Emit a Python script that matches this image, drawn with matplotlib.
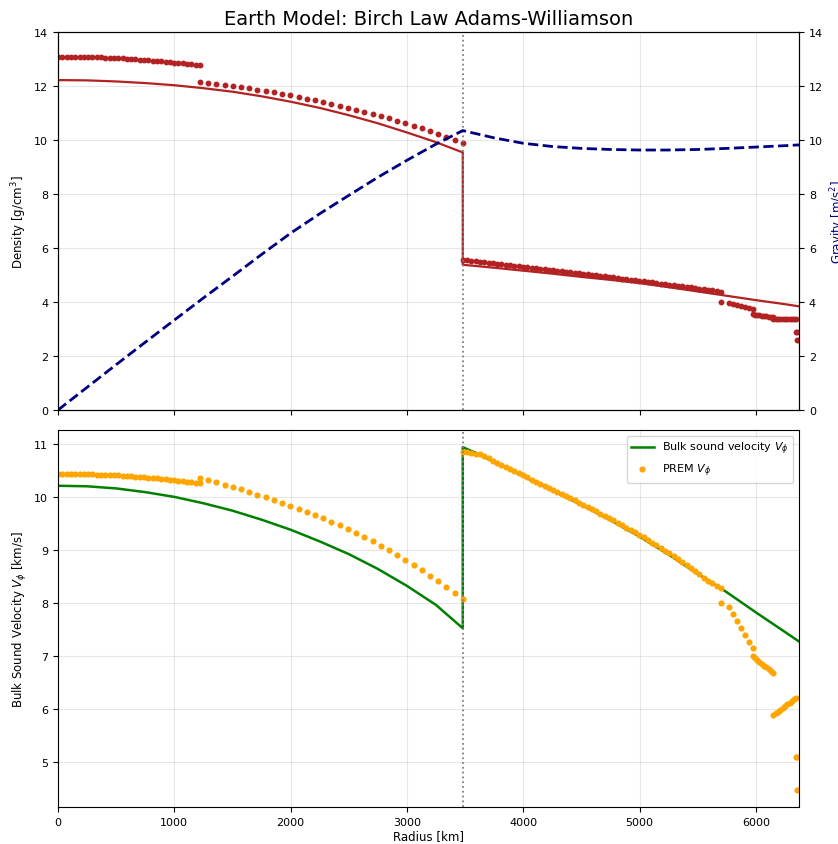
import numpy as np
from matplotlib import pyplot as plt

# PREM samples (radius km, density g/cm3, bulk sound velocity km/s)
r_ic = [0, 37, 74, 111, 148, 185, 222, 259, 296, 333, 370, 407, 444, 481, 518, 555, 592,
        629, 666, 703, 740, 777, 814, 851, 888, 925, 962, 999, 1036, 1073, 1110, 1147, 1184, 1221]
rho_ic = [13.089, 13.088, 13.087, 13.086, 13.084, 13.081, 13.078, 13.074, 13.069, 13.064,
          13.059, 13.052, 13.046, 13.038, 13.030, 13.021, 13.012, 13.002, 12.992, 12.981,
          12.969, 12.957, 12.944, 12.931, 12.917, 12.902, 12.887, 12.871, 12.855, 12.838,
          12.820, 12.802, 12.783, 12.764]
vphi_ic = [10.436, 10.435, 10.435, 10.434, 10.433, 10.431, 10.430, 10.428, 10.425, 10.422,
           10.419, 10.416, 10.412, 10.408, 10.404, 10.399, 10.394, 10.389, 10.383, 10.377,
           10.371, 10.364, 10.357, 10.350, 10.342, 10.335, 10.326, 10.318, 10.309, 10.300,
           10.290, 10.280, 10.270, 10.260]

r_oc = [1221.5, 1292, 1362, 1433, 1504, 1574, 1645, 1715, 1786, 1857, 1927, 1998, 2068, 2139,
        2210, 2280, 2351, 2421, 2492, 2563, 2633, 2704, 2774, 2845, 2916, 2986, 3057, 3127,
        3198, 3268, 3339, 3409, 3480]
rho_oc = [12.166, 12.129, 12.091, 12.050, 12.007, 11.964, 11.917, 11.870, 11.819, 11.767,
          11.713, 11.656, 11.598, 11.537, 11.474, 11.409, 11.341, 11.272, 11.199, 11.124,
          11.047, 10.966, 10.884, 10.799, 10.710, 10.620, 10.526, 10.430, 10.330, 10.229,
          10.123, 10.015, 9.903]
vphi_oc = [10.356, 10.315, 10.273, 10.229, 10.185, 10.140, 10.093, 10.045, 9.996, 9.944,
           9.892, 9.837, 9.780, 9.721, 9.660, 9.597, 9.531, 9.464, 9.392, 9.319, 9.243,
           9.163, 9.081, 8.995, 8.906, 8.815, 8.718, 8.620, 8.516, 8.410, 8.299, 8.185, 8.065]

r_lm = [3480, 3517, 3554, 3591, 3628, 3665, 3702, 3739, 3776, 3813, 3850, 3887, 3924, 3961,
        3998, 4035, 4072, 4109, 4146, 4183, 4220, 4257, 4294, 4331, 4368, 4405, 4442, 4479,
        4516, 4553, 4590, 4627, 4664, 4701, 4738, 4775, 4812, 4849, 4886, 4923, 4960, 4997,
        5034, 5071, 5108, 5145, 5182, 5219, 5256, 5293, 5330, 5367, 5404, 5441, 5478, 5515,
        5552, 5589, 5626, 5663, 5701]
rho_lm = [5.567, 5.548, 5.530, 5.511, 5.493, 5.474, 5.456, 5.438, 5.419, 5.401, 5.382, 5.364,
          5.345, 5.327, 5.308, 5.290, 5.271, 5.252, 5.234, 5.215, 5.196, 5.178, 5.159, 5.140,
          5.121, 5.103, 5.084, 5.065, 5.046, 5.026, 5.007, 4.987, 4.968, 4.948, 4.928, 4.909,
          4.889, 4.870, 4.850, 4.830, 4.811, 4.791, 4.770, 4.749, 4.728, 4.706, 4.685, 4.664,
          4.643, 4.622, 4.601, 4.580, 4.559, 4.538, 4.516, 4.495, 4.472, 4.449, 4.427, 4.404,
          4.381]
vphi_lm = [10.853, 10.841, 10.829, 10.818, 10.806, 10.767, 10.726, 10.685, 10.644, 10.604,
           10.564, 10.524, 10.485, 10.445, 10.405, 10.366, 10.327, 10.288, 10.249, 10.210,
           10.171, 10.132, 10.092, 10.052, 10.013, 9.973, 9.933, 9.893, 9.853, 9.811, 9.769,
           9.728, 9.686, 9.644, 9.602, 9.558, 9.513, 9.468, 9.422, 9.377, 9.332, 9.287, 9.237,
           9.187, 9.137, 9.087, 9.037, 8.987, 8.936, 8.879, 8.823, 8.767, 8.710, 8.654, 8.598,
           8.539, 8.478, 8.416, 8.366, 8.321, 8.274]

r_um = [5701, 5771, 5804, 5838, 5871, 5904, 5938, 5971, 5971, 5991, 6011, 6031, 6051, 6071,
        6091, 6111, 6131, 6151, 6151, 6171, 6191, 6211, 6231, 6251, 6271, 6291, 6311, 6331,
        6346.6, 6346.6, 6356, 6356, 6371]
rho_um = [3.992, 3.976, 3.934, 3.892, 3.850, 3.808, 3.766, 3.724, 3.543, 3.531, 3.519, 3.507,
          3.495, 3.484, 3.472, 3.460, 3.448, 3.436, 3.360, 3.362, 3.364, 3.366, 3.368, 3.370,
          3.373, 3.375, 3.377, 3.379, 3.381, 2.900, 2.900, 2.600, 2.600]
vphi_um = [8.002, 7.913, 7.784, 7.654, 7.527, 7.392, 7.255, 7.141, 6.998, 6.961, 6.925, 6.889,
           6.852, 6.816, 6.780, 6.744, 6.707, 6.671, 5.879, 5.913, 5.947, 5.981, 6.015, 6.049,
           6.083, 6.117, 6.151, 6.185, 6.212, 5.095, 5.095, 4.470, 4.470]

# Adams-Williamson model (core, then mantle)
r_mc = [0, 250, 500, 750, 1000, 1250, 1500, 1750, 2000, 2250, 2500, 2750, 3000, 3250, 3480]
rho_mc = [12.22, 12.21, 12.17, 12.11, 12.03, 11.92, 11.79, 11.62, 11.42, 11.19, 10.92, 10.62,
          10.28, 9.92, 9.54]
r_mm = [3480, 3750, 4000, 4250, 4500, 4750, 5000, 5250, 5500, 5750, 6000, 6250, 6371]
rho_mm = [5.38, 5.27, 5.16, 5.05, 4.93, 4.82, 4.70, 4.55, 4.39, 4.23, 4.07, 3.92, 3.84]

g_c = [0.0, 0.84, 1.68, 2.51, 3.33, 4.15, 4.95, 5.76, 6.55, 7.27, 7.95, 8.62, 9.25, 9.85, 10.35]
g_m = [10.35, 10.08, 9.88, 9.76, 9.69, 9.65, 9.63, 9.63, 9.65, 9.69, 9.74, 9.79, 9.82]

v_c = [10.21, 10.20, 10.16, 10.09, 10.00, 9.88, 9.74, 9.57, 9.38, 9.16, 8.92, 8.64, 8.32,
       7.96, 7.52]
r_vm = [3480, 3600, 3750, 4000, 4250, 4500, 4750, 5000, 5250, 5500, 5750, 6000, 6250, 6371]
v_m = [10.94, 10.82, 10.66, 10.39, 10.12, 9.85, 9.56, 9.25, 8.91, 8.55, 8.20, 7.82, 7.45, 7.27]

R_EARTH = 6371
R_CMB = 3480

r_prem = np.concatenate([r_ic, r_oc, r_lm, r_um])
rho_prem = np.concatenate([rho_ic, rho_oc, rho_lm, rho_um])
vphi_prem = np.concatenate([vphi_ic, vphi_oc, vphi_lm, vphi_um])

red = "firebrick"

fig = plt.figure(figsize=(8.38, 8.45), dpi=100)
ax1 = fig.add_axes([0.0692, 0.5136, 0.8843, 0.4473])
ax3 = fig.add_axes([0.0692, 0.0438, 0.8843, 0.4462], sharex=ax1)

# Density + gravity
ax1.plot(r_mc + r_mm, rho_mc + rho_mm, color=red, lw=1.6)
ax1.plot(r_prem, rho_prem, "o", color=red, ms=3.2, lw=0)
ax1.axvline(R_CMB, color="gray", ls=":", lw=1.3)
ax1.set_ylim(0, 14)
ax1.set_xlim(0, R_EARTH)
ax1.set_ylabel("Density [g/cm$^3$]", fontsize=8.5)
ax1.grid(alpha=0.3)
ax1.tick_params(labelsize=8, labelbottom=False)
ax1.set_title("Earth Model: Birch Law Adams-Williamson", fontsize=14)

ax2 = ax1.twinx()
ax2.plot(r_mc + r_mm, g_c + g_m, "--", color="navy", lw=2)
ax2.set_ylim(0, 14)
ax2.set_ylabel("Gravity [m/s$^2$]", color="navy", fontsize=8.5)
ax2.tick_params(labelsize=8)

# Bulk sound velocity
ax3.plot(r_mc + r_vm, v_c + v_m, color="green", lw=1.8, label="Bulk sound velocity $V_\\phi$")
ax3.plot(r_prem, vphi_prem, "o", color="orange", ms=3.4, lw=0, label="PREM $V_\\phi$")
ax3.axvline(R_CMB, color="gray", ls=":", lw=1.3)
ax3.set_xlim(0, R_EARTH)
ax3.set_xlabel("Radius [km]", fontsize=8.5, labelpad=2)
ax3.set_ylabel("Bulk Sound Velocity $V_\\phi$ [km/s]", fontsize=8.5)
ax3.grid(alpha=0.3)
ax3.tick_params(labelsize=8)
ax3.legend(loc="upper right", fontsize=8)

fig.savefig("out.png", dpi=100)
